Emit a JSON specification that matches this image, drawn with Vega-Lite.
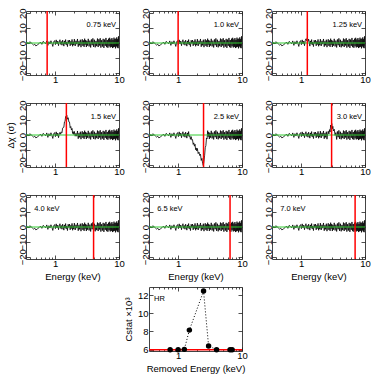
{
"$schema": "https://vega.github.io/schema/vega-lite/v6.json",
"background": "white",
"padding": {"left": 4, "top": 7, "right": 5, "bottom": 2},
"config": {
 "font": "Liberation Sans",
 "view": {"stroke": "#444", "strokeWidth": 1},
 "axis": {"domain": false, "grid": false, "labelFont": "Liberation Sans", "labelFontSize": 9.5, "labelColor": "#000", "titleFont": "Liberation Sans", "titleFontSize": 9.5, "titleFontWeight": "normal", "titleColor": "#000", "tickColor": "#222", "tickWidth": 0.8, "labelOverlap": false, "labelFlush": false, "labelBound": false, "labelPadding": 3, "titlePadding": 2},
 "text": {"font": "Liberation Sans", "fontSize": 7.5, "color": "#000"}
},
"datasets": {
 "A": [{"e":0.36,"r":0.5},{"e":0.38,"r":-0.3},{"e":0.4,"r":0.8},{"e":0.42,"r":0.2},{"e":0.44,"r":-0.6},{"e":0.46,"r":-1.4},{"e":0.48,"r":-0.8},{"e":0.5,"r":-2.0},{"e":0.53,"r":-1.2},{"e":0.56,"r":-0.4},{"e":0.59,"r":0.6},{"e":0.62,"r":-0.9},{"e":0.65,"r":1.1},{"e":0.68,"r":0.3},{"e":0.71,"r":-0.5},{"e":0.74,"r":1.4},{"e":0.77,"r":-1.6},{"e":0.8,"r":0.9},{"e":0.83,"r":-0.7},{"e":0.86,"r":1.5},{"e":0.89,"r":-0.2},{"e":0.92,"r":-2.3},{"e":0.95,"r":0.8},{"e":0.98,"r":1.6},{"e":1.01,"r":-1.1},{"e":1.04,"r":2.1},{"e":1.07,"r":-0.6},{"e":1.1,"r":1.3},{"e":1.13,"r":-1.8},{"e":1.16,"r":0.7},{"e":1.19,"r":2.2},{"e":1.22,"r":-0.9},{"e":1.25,"r":1.0},{"e":1.28,"r":-1.5},{"e":1.31,"r":1.9},{"e":1.34,"r":0.2},{"e":1.37,"r":-2.1},{"e":1.4,"r":1.4},{"e":1.43,"r":-0.7},{"e":1.46,"r":2.3},{"e":1.49,"r":-1.2},{"e":1.52,"r":0.6},{"e":1.56,"r":-2.4},{"e":1.6,"r":1.8},{"e":1.64,"r":-0.3},{"e":1.68,"r":2.0},{"e":1.72,"r":-1.9},{"e":1.76,"r":1.1},{"e":1.8,"r":-1.0},{"e":1.84,"r":2.4},{"e":1.88,"r":-2.2},{"e":1.92,"r":0.9},{"e":1.96,"r":-1.4},{"e":2.0,"r":2.6},{"e":2.06,"r":-2.0},{"e":2.12,"r":1.5},{"e":2.18,"r":-0.8},{"e":2.24,"r":2.7},{"e":2.3,"r":-2.5},{"e":2.36,"r":1.2},{"e":2.42,"r":-1.6},{"e":2.48,"r":2.2},{"e":2.54,"r":-2.8},{"e":2.6,"r":0.7},{"e":2.66,"r":2.5},{"e":2.72,"r":-1.9},{"e":2.78,"r":1.7},{"e":2.84,"r":-2.6},{"e":2.9,"r":2.9},{"e":2.96,"r":-1.1},{"e":3.02,"r":2.0},{"e":3.08,"r":-2.7},{"e":3.14,"r":1.3},{"e":3.2,"r":-1.8},{"e":3.3,"r":2.8},{"e":3.4,"r":-2.3},{"e":3.5,"r":1.6},{"e":3.6,"r":-3.0},{"e":3.7,"r":2.4},{"e":3.8,"r":-1.5},{"e":3.9,"r":3.1},{"e":4.0,"r":-2.6},{"e":4.12,"r":2.2},{"e":4.24,"r":-2.9},{"e":4.36,"r":1.4},{"e":4.48,"r":-2.1},{"e":4.6,"r":3.0},{"e":4.72,"r":-2.7},{"e":4.84,"r":2.5},{"e":4.96,"r":-1.7},{"e":5.08,"r":3.2},{"e":5.2,"r":-3.1},{"e":5.35,"r":1.9},{"e":5.5,"r":-2.4},{"e":5.65,"r":2.8},{"e":5.8,"r":-3.3},{"e":5.95,"r":2.3},{"e":6.1,"r":-1.9},{"e":6.25,"r":3.4},{"e":6.4,"r":-2.8},{"e":6.55,"r":2.0},{"e":6.7,"r":-3.2},{"e":6.85,"r":2.9},{"e":7.0,"r":-2.2},{"e":7.15,"r":3.5},{"e":7.3,"r":-3.0},{"e":7.45,"r":2.4},{"e":7.6,"r":-2.6},{"e":7.75,"r":3.3},{"e":7.9,"r":-3.4},{"e":8.05,"r":2.1},{"e":8.2,"r":-2.9},{"e":8.35,"r":3.6},{"e":8.5,"r":-2.5},{"e":8.65,"r":2.7},{"e":8.8,"r":-3.6},{"e":8.95,"r":3.0},{"e":9.1,"r":-2.3},{"e":9.25,"r":3.8},{"e":9.4,"r":-3.1},{"e":9.55,"r":2.6},{"e":9.7,"r":-3.5},{"e":9.85,"r":4.5},{"e":10.0,"r":-2.0}],
 "B125": [{"e":0.36,"r":0.5},{"e":0.38,"r":-0.3},{"e":0.4,"r":0.8},{"e":0.42,"r":0.2},{"e":0.44,"r":-0.6},{"e":0.46,"r":-1.4},{"e":0.48,"r":-0.8},{"e":0.5,"r":-2.0},{"e":0.53,"r":-1.2},{"e":0.56,"r":-0.4},{"e":0.59,"r":0.6},{"e":0.62,"r":-0.9},{"e":0.65,"r":1.1},{"e":0.68,"r":0.3},{"e":0.71,"r":-0.5},{"e":0.74,"r":1.4},{"e":0.77,"r":-1.6},{"e":0.8,"r":0.9},{"e":0.83,"r":-0.7},{"e":0.86,"r":1.5},{"e":0.89,"r":-0.2},{"e":0.92,"r":-2.3},{"e":0.95,"r":0.8},{"e":0.98,"r":1.6},{"e":1.01,"r":-1.1},{"e":1.04,"r":2.1},{"e":1.07,"r":-0.6},{"e":1.1,"r":1.3},{"e":1.13,"r":-1.8},{"e":1.16,"r":1.5},{"e":1.19,"r":2.8},{"e":1.22,"r":1.5},{"e":1.25,"r":3.5},{"e":1.28,"r":1.0},{"e":1.31,"r":2.6},{"e":1.34,"r":0.8},{"e":1.37,"r":-2.1},{"e":1.4,"r":1.4},{"e":1.43,"r":-0.7},{"e":1.46,"r":2.3},{"e":1.49,"r":-1.2},{"e":1.52,"r":0.6},{"e":1.56,"r":-2.4},{"e":1.6,"r":1.8},{"e":1.64,"r":-0.3},{"e":1.68,"r":2.0},{"e":1.72,"r":-1.9},{"e":1.76,"r":1.1},{"e":1.8,"r":-1.0},{"e":1.84,"r":2.4},{"e":1.88,"r":-2.2},{"e":1.92,"r":0.9},{"e":1.96,"r":-1.4},{"e":2.0,"r":2.6},{"e":2.06,"r":-2.0},{"e":2.12,"r":1.5},{"e":2.18,"r":-0.8},{"e":2.24,"r":2.7},{"e":2.3,"r":-2.5},{"e":2.36,"r":1.2},{"e":2.42,"r":-1.6},{"e":2.48,"r":2.2},{"e":2.54,"r":-2.8},{"e":2.6,"r":0.7},{"e":2.66,"r":2.5},{"e":2.72,"r":-1.9},{"e":2.78,"r":1.7},{"e":2.84,"r":-2.6},{"e":2.9,"r":2.9},{"e":2.96,"r":-1.1},{"e":3.02,"r":2.0},{"e":3.08,"r":-2.7},{"e":3.14,"r":1.3},{"e":3.2,"r":-1.8},{"e":3.3,"r":2.8},{"e":3.4,"r":-2.3},{"e":3.5,"r":1.6},{"e":3.6,"r":-3.0},{"e":3.7,"r":2.4},{"e":3.8,"r":-1.5},{"e":3.9,"r":3.1},{"e":4.0,"r":-2.6},{"e":4.12,"r":2.2},{"e":4.24,"r":-2.9},{"e":4.36,"r":1.4},{"e":4.48,"r":-2.1},{"e":4.6,"r":3.0},{"e":4.72,"r":-2.7},{"e":4.84,"r":2.5},{"e":4.96,"r":-1.7},{"e":5.08,"r":3.2},{"e":5.2,"r":-3.1},{"e":5.35,"r":1.9},{"e":5.5,"r":-2.4},{"e":5.65,"r":2.8},{"e":5.8,"r":-3.3},{"e":5.95,"r":2.3},{"e":6.1,"r":-1.9},{"e":6.25,"r":3.4},{"e":6.4,"r":-2.8},{"e":6.55,"r":2.0},{"e":6.7,"r":-3.2},{"e":6.85,"r":2.9},{"e":7.0,"r":-2.2},{"e":7.15,"r":3.5},{"e":7.3,"r":-3.0},{"e":7.45,"r":2.4},{"e":7.6,"r":-2.6},{"e":7.75,"r":3.3},{"e":7.9,"r":-3.4},{"e":8.05,"r":2.1},{"e":8.2,"r":-2.9},{"e":8.35,"r":3.6},{"e":8.5,"r":-2.5},{"e":8.65,"r":2.7},{"e":8.8,"r":-3.6},{"e":8.95,"r":3.0},{"e":9.1,"r":-2.3},{"e":9.25,"r":3.8},{"e":9.4,"r":-3.1},{"e":9.55,"r":2.6},{"e":9.7,"r":-3.5},{"e":9.85,"r":4.5},{"e":10.0,"r":-2.0}],
 "B15": [{"e":0.36,"r":0.5},{"e":0.38,"r":-0.3},{"e":0.4,"r":0.8},{"e":0.42,"r":0.2},{"e":0.44,"r":-0.6},{"e":0.46,"r":-1.4},{"e":0.48,"r":-0.8},{"e":0.5,"r":-2.0},{"e":0.53,"r":-1.2},{"e":0.56,"r":-0.4},{"e":0.59,"r":0.6},{"e":0.62,"r":-0.9},{"e":0.65,"r":1.1},{"e":0.68,"r":0.3},{"e":0.71,"r":-0.5},{"e":0.74,"r":1.4},{"e":0.77,"r":-1.6},{"e":0.8,"r":0.9},{"e":0.83,"r":-0.7},{"e":0.86,"r":1.5},{"e":0.89,"r":-0.2},{"e":0.92,"r":-2.3},{"e":0.95,"r":0.8},{"e":0.98,"r":1.6},{"e":1.01,"r":-1.1},{"e":1.04,"r":2.1},{"e":1.07,"r":-0.6},{"e":1.1,"r":1.3},{"e":1.13,"r":-1.8},{"e":1.16,"r":0.7},{"e":1.19,"r":1.8},{"e":1.22,"r":0.5},{"e":1.25,"r":2.1},{"e":1.28,"r":1.6},{"e":1.31,"r":4.6},{"e":1.34,"r":5.1},{"e":1.37,"r":5.2},{"e":1.4,"r":8.8},{"e":1.43,"r":9.1},{"e":1.46,"r":12.4},{"e":1.49,"r":11.8},{"e":1.52,"r":13.4},{"e":1.56,"r":10.6},{"e":1.6,"r":11.6},{"e":1.64,"r":8.8},{"e":1.68,"r":8.7},{"e":1.72,"r":4.9},{"e":1.76,"r":5.7},{"e":1.8,"r":3.4},{"e":1.84,"r":4.4},{"e":1.88,"r":1.0},{"e":1.92,"r":2.2},{"e":1.96,"r":0.4},{"e":2.0,"r":2.4},{"e":2.06,"r":-0.8},{"e":2.12,"r":1.1},{"e":2.18,"r":-0.8},{"e":2.24,"r":2.7},{"e":2.3,"r":-2.5},{"e":2.36,"r":1.2},{"e":2.42,"r":-1.6},{"e":2.48,"r":2.2},{"e":2.54,"r":-2.8},{"e":2.6,"r":0.7},{"e":2.66,"r":2.5},{"e":2.72,"r":-1.9},{"e":2.78,"r":1.7},{"e":2.84,"r":-2.6},{"e":2.9,"r":2.9},{"e":2.96,"r":-1.1},{"e":3.02,"r":2.0},{"e":3.08,"r":-2.7},{"e":3.14,"r":1.3},{"e":3.2,"r":-1.8},{"e":3.3,"r":2.8},{"e":3.4,"r":-2.3},{"e":3.5,"r":1.6},{"e":3.6,"r":-3.0},{"e":3.7,"r":2.4},{"e":3.8,"r":-1.5},{"e":3.9,"r":3.1},{"e":4.0,"r":-2.6},{"e":4.12,"r":2.2},{"e":4.24,"r":-2.9},{"e":4.36,"r":1.4},{"e":4.48,"r":-2.1},{"e":4.6,"r":3.0},{"e":4.72,"r":-2.7},{"e":4.84,"r":2.5},{"e":4.96,"r":-1.7},{"e":5.08,"r":3.2},{"e":5.2,"r":-3.1},{"e":5.35,"r":1.9},{"e":5.5,"r":-2.4},{"e":5.65,"r":2.8},{"e":5.8,"r":-3.3},{"e":5.95,"r":2.3},{"e":6.1,"r":-1.9},{"e":6.25,"r":3.4},{"e":6.4,"r":-2.8},{"e":6.55,"r":2.0},{"e":6.7,"r":-3.2},{"e":6.85,"r":2.9},{"e":7.0,"r":-2.2},{"e":7.15,"r":3.5},{"e":7.3,"r":-3.0},{"e":7.45,"r":2.4},{"e":7.6,"r":-2.6},{"e":7.75,"r":3.3},{"e":7.9,"r":-3.4},{"e":8.05,"r":2.1},{"e":8.2,"r":-2.9},{"e":8.35,"r":3.6},{"e":8.5,"r":-2.5},{"e":8.65,"r":2.7},{"e":8.8,"r":-3.6},{"e":8.95,"r":3.0},{"e":9.1,"r":-2.3},{"e":9.25,"r":3.8},{"e":9.4,"r":-3.1},{"e":9.55,"r":2.6},{"e":9.7,"r":-3.5},{"e":9.85,"r":4.5},{"e":10.0,"r":-2.0}],
 "B25": [{"e":0.36,"r":0.5},{"e":0.38,"r":-0.3},{"e":0.4,"r":0.8},{"e":0.42,"r":0.2},{"e":0.44,"r":-0.6},{"e":0.46,"r":-1.4},{"e":0.48,"r":-0.8},{"e":0.5,"r":-2.0},{"e":0.53,"r":-1.2},{"e":0.56,"r":-0.4},{"e":0.59,"r":0.6},{"e":0.62,"r":-0.9},{"e":0.65,"r":1.1},{"e":0.68,"r":0.3},{"e":0.71,"r":-0.5},{"e":0.74,"r":1.4},{"e":0.77,"r":-1.6},{"e":0.8,"r":0.9},{"e":0.83,"r":-0.7},{"e":0.86,"r":1.5},{"e":0.89,"r":-0.2},{"e":0.92,"r":-2.3},{"e":0.95,"r":0.8},{"e":0.98,"r":1.6},{"e":1.01,"r":-1.1},{"e":1.04,"r":2.1},{"e":1.07,"r":-0.6},{"e":1.1,"r":1.3},{"e":1.13,"r":-1.8},{"e":1.16,"r":0.7},{"e":1.19,"r":2.2},{"e":1.22,"r":-0.9},{"e":1.25,"r":1.0},{"e":1.28,"r":-1.5},{"e":1.31,"r":1.9},{"e":1.34,"r":0.2},{"e":1.37,"r":-2.1},{"e":1.4,"r":1.4},{"e":1.43,"r":-0.7},{"e":1.46,"r":2.3},{"e":1.49,"r":-1.0},{"e":1.52,"r":-0.4},{"e":1.56,"r":-2.9},{"e":1.6,"r":-1.1},{"e":1.64,"r":-3.4},{"e":1.68,"r":-3.1},{"e":1.72,"r":-6.3},{"e":1.76,"r":-5.3},{"e":1.8,"r":-7.5},{"e":1.84,"r":-6.2},{"e":1.88,"r":-9.9},{"e":1.92,"r":-8.7},{"e":1.96,"r":-10.7},{"e":2.0,"r":-9.0},{"e":2.06,"r":-12.5},{"e":2.12,"r":-11.5},{"e":2.18,"r":-13.8},{"e":2.24,"r":-12.9},{"e":2.3,"r":-17.1},{"e":2.36,"r":-15.7},{"e":2.42,"r":-19.2},{"e":2.48,"r":-20.6},{"e":2.54,"r":-17.5},{"e":2.6,"r":-13.6},{"e":2.66,"r":-8.5},{"e":2.72,"r":-7.1},{"e":2.78,"r":-2.0},{"e":2.84,"r":-2.6},{"e":2.9,"r":2.9},{"e":2.96,"r":-1.1},{"e":3.02,"r":2.0},{"e":3.08,"r":-2.7},{"e":3.14,"r":1.3},{"e":3.2,"r":-1.8},{"e":3.3,"r":2.8},{"e":3.4,"r":-2.3},{"e":3.5,"r":1.6},{"e":3.6,"r":-3.0},{"e":3.7,"r":2.4},{"e":3.8,"r":-1.5},{"e":3.9,"r":3.1},{"e":4.0,"r":-2.6},{"e":4.12,"r":2.2},{"e":4.24,"r":-2.9},{"e":4.36,"r":1.4},{"e":4.48,"r":-2.1},{"e":4.6,"r":3.0},{"e":4.72,"r":-2.7},{"e":4.84,"r":2.5},{"e":4.96,"r":-1.7},{"e":5.08,"r":3.2},{"e":5.2,"r":-3.1},{"e":5.35,"r":1.9},{"e":5.5,"r":-2.4},{"e":5.65,"r":2.8},{"e":5.8,"r":-3.3},{"e":5.95,"r":2.3},{"e":6.1,"r":-1.9},{"e":6.25,"r":3.4},{"e":6.4,"r":-2.8},{"e":6.55,"r":2.0},{"e":6.7,"r":-3.2},{"e":6.85,"r":2.9},{"e":7.0,"r":-2.2},{"e":7.15,"r":3.5},{"e":7.3,"r":-3.0},{"e":7.45,"r":2.4},{"e":7.6,"r":-2.6},{"e":7.75,"r":3.3},{"e":7.9,"r":-3.4},{"e":8.05,"r":2.1},{"e":8.2,"r":-2.9},{"e":8.35,"r":3.6},{"e":8.5,"r":-2.5},{"e":8.65,"r":2.7},{"e":8.8,"r":-3.6},{"e":8.95,"r":3.0},{"e":9.1,"r":-2.3},{"e":9.25,"r":3.8},{"e":9.4,"r":-3.1},{"e":9.55,"r":2.6},{"e":9.7,"r":-3.5},{"e":9.85,"r":4.5},{"e":10.0,"r":-2.0}],
 "B30": [{"e":0.36,"r":0.5},{"e":0.38,"r":-0.3},{"e":0.4,"r":0.8},{"e":0.42,"r":0.2},{"e":0.44,"r":-0.6},{"e":0.46,"r":-1.4},{"e":0.48,"r":-0.8},{"e":0.5,"r":-2.0},{"e":0.53,"r":-1.2},{"e":0.56,"r":-0.4},{"e":0.59,"r":0.6},{"e":0.62,"r":-0.9},{"e":0.65,"r":1.1},{"e":0.68,"r":0.3},{"e":0.71,"r":-0.5},{"e":0.74,"r":1.4},{"e":0.77,"r":-1.6},{"e":0.8,"r":0.9},{"e":0.83,"r":-0.7},{"e":0.86,"r":1.5},{"e":0.89,"r":-0.2},{"e":0.92,"r":-2.3},{"e":0.95,"r":0.8},{"e":0.98,"r":1.6},{"e":1.01,"r":-1.1},{"e":1.04,"r":2.1},{"e":1.07,"r":-0.6},{"e":1.1,"r":1.3},{"e":1.13,"r":-1.8},{"e":1.16,"r":0.7},{"e":1.19,"r":2.2},{"e":1.22,"r":-0.9},{"e":1.25,"r":1.0},{"e":1.28,"r":-1.5},{"e":1.31,"r":1.9},{"e":1.34,"r":0.2},{"e":1.37,"r":-2.1},{"e":1.4,"r":1.4},{"e":1.43,"r":-0.7},{"e":1.46,"r":2.3},{"e":1.49,"r":-1.2},{"e":1.52,"r":0.6},{"e":1.56,"r":-2.4},{"e":1.6,"r":1.8},{"e":1.64,"r":-0.3},{"e":1.68,"r":2.0},{"e":1.72,"r":-1.9},{"e":1.76,"r":1.1},{"e":1.8,"r":-1.0},{"e":1.84,"r":2.4},{"e":1.88,"r":-2.2},{"e":1.92,"r":0.9},{"e":1.96,"r":-1.4},{"e":2.0,"r":2.6},{"e":2.06,"r":-2.0},{"e":2.12,"r":1.5},{"e":2.18,"r":-0.8},{"e":2.24,"r":2.7},{"e":2.3,"r":-2.5},{"e":2.36,"r":1.2},{"e":2.42,"r":-1.6},{"e":2.48,"r":2.2},{"e":2.54,"r":-2.8},{"e":2.6,"r":0.9},{"e":2.66,"r":2.5},{"e":2.72,"r":0.7},{"e":2.78,"r":3.6},{"e":2.84,"r":2.0},{"e":2.9,"r":6.7},{"e":2.96,"r":5.3},{"e":3.02,"r":7.7},{"e":3.08,"r":4.2},{"e":3.14,"r":5.8},{"e":3.2,"r":2.7},{"e":3.3,"r":3.9},{"e":3.4,"r":-0.2},{"e":3.5,"r":1.6},{"e":3.6,"r":-3.0},{"e":3.7,"r":2.4},{"e":3.8,"r":-1.5},{"e":3.9,"r":3.1},{"e":4.0,"r":-2.6},{"e":4.12,"r":2.2},{"e":4.24,"r":-2.9},{"e":4.36,"r":1.4},{"e":4.48,"r":-2.1},{"e":4.6,"r":3.0},{"e":4.72,"r":-2.7},{"e":4.84,"r":2.5},{"e":4.96,"r":-1.7},{"e":5.08,"r":3.2},{"e":5.2,"r":-3.1},{"e":5.35,"r":1.9},{"e":5.5,"r":-2.4},{"e":5.65,"r":2.8},{"e":5.8,"r":-3.3},{"e":5.95,"r":2.3},{"e":6.1,"r":-1.9},{"e":6.25,"r":3.4},{"e":6.4,"r":-2.8},{"e":6.55,"r":2.0},{"e":6.7,"r":-3.2},{"e":6.85,"r":2.9},{"e":7.0,"r":-2.2},{"e":7.15,"r":3.5},{"e":7.3,"r":-3.0},{"e":7.45,"r":2.4},{"e":7.6,"r":-2.6},{"e":7.75,"r":3.3},{"e":7.9,"r":-3.4},{"e":8.05,"r":2.1},{"e":8.2,"r":-2.9},{"e":8.35,"r":3.6},{"e":8.5,"r":-2.5},{"e":8.65,"r":2.7},{"e":8.8,"r":-3.6},{"e":8.95,"r":3.0},{"e":9.1,"r":-2.3},{"e":9.25,"r":3.8},{"e":9.4,"r":-3.1},{"e":9.55,"r":2.6},{"e":9.7,"r":-3.5},{"e":9.85,"r":4.5},{"e":10.0,"r":-2.0}],
 "cs": [{"e":0.75,"c":6.0},{"e":1.0,"c":6.0},{"e":1.25,"c":6.03},{"e":1.5,"c":8.15},{"e":2.5,"c":12.45},{"e":3.0,"c":6.4},{"e":4.0,"c":6.0},{"e":6.5,"c":6.0},{"e":7.0,"c":6.0}]
},
"columns": 3,
"spacing": {"row": 28, "column": 30},
"bounds": "flush",
"concat": [
 {"width": 93, "height": 64, "resolve": {"axis": {"x": "independent", "y": "independent"}}, "layer": [
  {"data": {"name": "A"}, "mark": {"type": "line", "color": "#000", "strokeWidth": 0.8, "clip": true}, "encoding": {"x": {"field": "e", "type": "quantitative", "scale": {"type": "log", "domain": [0.35, 10], "nice": false}, "axis": {"orient": "bottom", "values": [0.4,0.5,0.6,0.7,0.8,0.9,1,2,3,4,5,6,7,8,9,10], "labelExpr": "datum.value == 1 ? '1' : datum.value == 10 ? '10' : ''", "tickSize": {"condition": {"test": "datum.value == 1 || datum.value == 10", "value": -4}, "value": -2}, "title": null}}, "y": {"field": "r", "type": "quantitative", "scale": {"domain": [-21.5, 21.5], "nice": false, "zero": false}, "axis": {"orient": "left", "values": [-20,-10,0,10,20], "labelAngle": -90, "labelAlign": "center", "labelBaseline": "bottom", "tickSize": -4, "title": null}}}},
  {"data": {"values": [{"z": 0}]}, "mark": {"type": "rule", "color": "#3c3", "strokeWidth": 1}, "encoding": {"y": {"field": "z", "type": "quantitative", "scale": {"domain": [-21.5, 21.5], "nice": false, "zero": false}, "axis": {"orient": "right", "values": [-20,-10,0,10,20], "labels": false, "tickSize": -4, "title": null}}}},
  {"data": {"values": [{}]}, "mark": {"type": "rule", "color": "#f00", "strokeWidth": 1.5}, "encoding": {"x": {"datum": 0.75, "type": "quantitative", "scale": {"type": "log", "domain": [0.35, 10], "nice": false}, "axis": {"orient": "top", "values": [0.4,0.5,0.6,0.7,0.8,0.9,1,2,3,4,5,6,7,8,9,10], "labels": false, "tickSize": {"condition": {"test": "datum.value == 1 || datum.value == 10", "value": -4}, "value": -2}, "title": null}}}},
  {"data": {"values": [{"t": "0.75 keV"}]}, "mark": {"type": "text", "align": "right", "baseline": "middle"}, "encoding": {"x": {"datum": 9, "type": "quantitative", "scale": {"type": "log", "domain": [0.35, 10], "nice": false}, "axis": null}, "y": {"datum": 12, "type": "quantitative", "scale": {"domain": [-21.5, 21.5], "nice": false, "zero": false}, "axis": null}, "text": {"field": "t"}}}
 ]},
 {"width": 93, "height": 64, "resolve": {"axis": {"x": "independent", "y": "independent"}}, "layer": [
  {"data": {"name": "A"}, "mark": {"type": "line", "color": "#000", "strokeWidth": 0.8, "clip": true}, "encoding": {"x": {"field": "e", "type": "quantitative", "scale": {"type": "log", "domain": [0.35, 10], "nice": false}, "axis": {"orient": "bottom", "values": [0.4,0.5,0.6,0.7,0.8,0.9,1,2,3,4,5,6,7,8,9,10], "labelExpr": "datum.value == 1 ? '1' : datum.value == 10 ? '10' : ''", "tickSize": {"condition": {"test": "datum.value == 1 || datum.value == 10", "value": -4}, "value": -2}, "title": null}}, "y": {"field": "r", "type": "quantitative", "scale": {"domain": [-21.5, 21.5], "nice": false, "zero": false}, "axis": {"orient": "left", "values": [-20,-10,0,10,20], "labelAngle": -90, "labelAlign": "center", "labelBaseline": "bottom", "tickSize": -4, "title": null}}}},
  {"data": {"values": [{"z": 0}]}, "mark": {"type": "rule", "color": "#3c3", "strokeWidth": 1}, "encoding": {"y": {"field": "z", "type": "quantitative", "scale": {"domain": [-21.5, 21.5], "nice": false, "zero": false}, "axis": {"orient": "right", "values": [-20,-10,0,10,20], "labels": false, "tickSize": -4, "title": null}}}},
  {"data": {"values": [{}]}, "mark": {"type": "rule", "color": "#f00", "strokeWidth": 1.5}, "encoding": {"x": {"datum": 1.0, "type": "quantitative", "scale": {"type": "log", "domain": [0.35, 10], "nice": false}, "axis": {"orient": "top", "values": [0.4,0.5,0.6,0.7,0.8,0.9,1,2,3,4,5,6,7,8,9,10], "labels": false, "tickSize": {"condition": {"test": "datum.value == 1 || datum.value == 10", "value": -4}, "value": -2}, "title": null}}}},
  {"data": {"values": [{"t": "1.0 keV"}]}, "mark": {"type": "text", "align": "right", "baseline": "middle"}, "encoding": {"x": {"datum": 9, "type": "quantitative", "scale": {"type": "log", "domain": [0.35, 10], "nice": false}, "axis": null}, "y": {"datum": 12, "type": "quantitative", "scale": {"domain": [-21.5, 21.5], "nice": false, "zero": false}, "axis": null}, "text": {"field": "t"}}}
 ]},
 {"width": 93, "height": 64, "resolve": {"axis": {"x": "independent", "y": "independent"}}, "layer": [
  {"data": {"name": "B125"}, "mark": {"type": "line", "color": "#000", "strokeWidth": 0.8, "clip": true}, "encoding": {"x": {"field": "e", "type": "quantitative", "scale": {"type": "log", "domain": [0.35, 10], "nice": false}, "axis": {"orient": "bottom", "values": [0.4,0.5,0.6,0.7,0.8,0.9,1,2,3,4,5,6,7,8,9,10], "labelExpr": "datum.value == 1 ? '1' : datum.value == 10 ? '10' : ''", "tickSize": {"condition": {"test": "datum.value == 1 || datum.value == 10", "value": -4}, "value": -2}, "title": null}}, "y": {"field": "r", "type": "quantitative", "scale": {"domain": [-21.5, 21.5], "nice": false, "zero": false}, "axis": {"orient": "left", "values": [-20,-10,0,10,20], "labelAngle": -90, "labelAlign": "center", "labelBaseline": "bottom", "tickSize": -4, "title": null}}}},
  {"data": {"values": [{"z": 0}]}, "mark": {"type": "rule", "color": "#3c3", "strokeWidth": 1}, "encoding": {"y": {"field": "z", "type": "quantitative", "scale": {"domain": [-21.5, 21.5], "nice": false, "zero": false}, "axis": {"orient": "right", "values": [-20,-10,0,10,20], "labels": false, "tickSize": -4, "title": null}}}},
  {"data": {"values": [{}]}, "mark": {"type": "rule", "color": "#f00", "strokeWidth": 1.5}, "encoding": {"x": {"datum": 1.25, "type": "quantitative", "scale": {"type": "log", "domain": [0.35, 10], "nice": false}, "axis": {"orient": "top", "values": [0.4,0.5,0.6,0.7,0.8,0.9,1,2,3,4,5,6,7,8,9,10], "labels": false, "tickSize": {"condition": {"test": "datum.value == 1 || datum.value == 10", "value": -4}, "value": -2}, "title": null}}}},
  {"data": {"values": [{"t": "1.25 keV"}]}, "mark": {"type": "text", "align": "right", "baseline": "middle"}, "encoding": {"x": {"datum": 9, "type": "quantitative", "scale": {"type": "log", "domain": [0.35, 10], "nice": false}, "axis": null}, "y": {"datum": 12, "type": "quantitative", "scale": {"domain": [-21.5, 21.5], "nice": false, "zero": false}, "axis": null}, "text": {"field": "t"}}}
 ]},
 {"width": 93, "height": 64, "resolve": {"axis": {"x": "independent", "y": "independent"}}, "layer": [
  {"data": {"name": "B15"}, "mark": {"type": "line", "color": "#000", "strokeWidth": 0.8, "clip": true}, "encoding": {"x": {"field": "e", "type": "quantitative", "scale": {"type": "log", "domain": [0.35, 10], "nice": false}, "axis": {"orient": "bottom", "values": [0.4,0.5,0.6,0.7,0.8,0.9,1,2,3,4,5,6,7,8,9,10], "labelExpr": "datum.value == 1 ? '1' : datum.value == 10 ? '10' : ''", "tickSize": {"condition": {"test": "datum.value == 1 || datum.value == 10", "value": -4}, "value": -2}, "title": null}}, "y": {"field": "r", "type": "quantitative", "scale": {"domain": [-21.5, 21.5], "nice": false, "zero": false}, "axis": {"orient": "left", "values": [-20,-10,0,10,20], "labelAngle": -90, "labelAlign": "center", "labelBaseline": "bottom", "tickSize": -4, "title": "Δχ (σ)"}}}},
  {"data": {"values": [{"z": 0}]}, "mark": {"type": "rule", "color": "#3c3", "strokeWidth": 1}, "encoding": {"y": {"field": "z", "type": "quantitative", "scale": {"domain": [-21.5, 21.5], "nice": false, "zero": false}, "axis": {"orient": "right", "values": [-20,-10,0,10,20], "labels": false, "tickSize": -4, "title": null}}}},
  {"data": {"values": [{}]}, "mark": {"type": "rule", "color": "#f00", "strokeWidth": 1.5}, "encoding": {"x": {"datum": 1.5, "type": "quantitative", "scale": {"type": "log", "domain": [0.35, 10], "nice": false}, "axis": {"orient": "top", "values": [0.4,0.5,0.6,0.7,0.8,0.9,1,2,3,4,5,6,7,8,9,10], "labels": false, "tickSize": {"condition": {"test": "datum.value == 1 || datum.value == 10", "value": -4}, "value": -2}, "title": null}}}},
  {"data": {"values": [{"t": "1.5 keV"}]}, "mark": {"type": "text", "align": "right", "baseline": "middle"}, "encoding": {"x": {"datum": 9, "type": "quantitative", "scale": {"type": "log", "domain": [0.35, 10], "nice": false}, "axis": null}, "y": {"datum": 12, "type": "quantitative", "scale": {"domain": [-21.5, 21.5], "nice": false, "zero": false}, "axis": null}, "text": {"field": "t"}}}
 ]},
 {"width": 93, "height": 64, "resolve": {"axis": {"x": "independent", "y": "independent"}}, "layer": [
  {"data": {"name": "B25"}, "mark": {"type": "line", "color": "#000", "strokeWidth": 0.8, "clip": true}, "encoding": {"x": {"field": "e", "type": "quantitative", "scale": {"type": "log", "domain": [0.35, 10], "nice": false}, "axis": {"orient": "bottom", "values": [0.4,0.5,0.6,0.7,0.8,0.9,1,2,3,4,5,6,7,8,9,10], "labelExpr": "datum.value == 1 ? '1' : datum.value == 10 ? '10' : ''", "tickSize": {"condition": {"test": "datum.value == 1 || datum.value == 10", "value": -4}, "value": -2}, "title": null}}, "y": {"field": "r", "type": "quantitative", "scale": {"domain": [-21.5, 21.5], "nice": false, "zero": false}, "axis": {"orient": "left", "values": [-20,-10,0,10,20], "labelAngle": -90, "labelAlign": "center", "labelBaseline": "bottom", "tickSize": -4, "title": null}}}},
  {"data": {"values": [{"z": 0}]}, "mark": {"type": "rule", "color": "#3c3", "strokeWidth": 1}, "encoding": {"y": {"field": "z", "type": "quantitative", "scale": {"domain": [-21.5, 21.5], "nice": false, "zero": false}, "axis": {"orient": "right", "values": [-20,-10,0,10,20], "labels": false, "tickSize": -4, "title": null}}}},
  {"data": {"values": [{}]}, "mark": {"type": "rule", "color": "#f00", "strokeWidth": 1.5}, "encoding": {"x": {"datum": 2.5, "type": "quantitative", "scale": {"type": "log", "domain": [0.35, 10], "nice": false}, "axis": {"orient": "top", "values": [0.4,0.5,0.6,0.7,0.8,0.9,1,2,3,4,5,6,7,8,9,10], "labels": false, "tickSize": {"condition": {"test": "datum.value == 1 || datum.value == 10", "value": -4}, "value": -2}, "title": null}}}},
  {"data": {"values": [{"t": "2.5 keV"}]}, "mark": {"type": "text", "align": "right", "baseline": "middle"}, "encoding": {"x": {"datum": 9, "type": "quantitative", "scale": {"type": "log", "domain": [0.35, 10], "nice": false}, "axis": null}, "y": {"datum": 12, "type": "quantitative", "scale": {"domain": [-21.5, 21.5], "nice": false, "zero": false}, "axis": null}, "text": {"field": "t"}}}
 ]},
 {"width": 93, "height": 64, "resolve": {"axis": {"x": "independent", "y": "independent"}}, "layer": [
  {"data": {"name": "B30"}, "mark": {"type": "line", "color": "#000", "strokeWidth": 0.8, "clip": true}, "encoding": {"x": {"field": "e", "type": "quantitative", "scale": {"type": "log", "domain": [0.35, 10], "nice": false}, "axis": {"orient": "bottom", "values": [0.4,0.5,0.6,0.7,0.8,0.9,1,2,3,4,5,6,7,8,9,10], "labelExpr": "datum.value == 1 ? '1' : datum.value == 10 ? '10' : ''", "tickSize": {"condition": {"test": "datum.value == 1 || datum.value == 10", "value": -4}, "value": -2}, "title": null}}, "y": {"field": "r", "type": "quantitative", "scale": {"domain": [-21.5, 21.5], "nice": false, "zero": false}, "axis": {"orient": "left", "values": [-20,-10,0,10,20], "labelAngle": -90, "labelAlign": "center", "labelBaseline": "bottom", "tickSize": -4, "title": null}}}},
  {"data": {"values": [{"z": 0}]}, "mark": {"type": "rule", "color": "#3c3", "strokeWidth": 1}, "encoding": {"y": {"field": "z", "type": "quantitative", "scale": {"domain": [-21.5, 21.5], "nice": false, "zero": false}, "axis": {"orient": "right", "values": [-20,-10,0,10,20], "labels": false, "tickSize": -4, "title": null}}}},
  {"data": {"values": [{}]}, "mark": {"type": "rule", "color": "#f00", "strokeWidth": 1.5}, "encoding": {"x": {"datum": 3.0, "type": "quantitative", "scale": {"type": "log", "domain": [0.35, 10], "nice": false}, "axis": {"orient": "top", "values": [0.4,0.5,0.6,0.7,0.8,0.9,1,2,3,4,5,6,7,8,9,10], "labels": false, "tickSize": {"condition": {"test": "datum.value == 1 || datum.value == 10", "value": -4}, "value": -2}, "title": null}}}},
  {"data": {"values": [{"t": "3.0 keV"}]}, "mark": {"type": "text", "align": "right", "baseline": "middle"}, "encoding": {"x": {"datum": 9, "type": "quantitative", "scale": {"type": "log", "domain": [0.35, 10], "nice": false}, "axis": null}, "y": {"datum": 12, "type": "quantitative", "scale": {"domain": [-21.5, 21.5], "nice": false, "zero": false}, "axis": null}, "text": {"field": "t"}}}
 ]},
 {"width": 93, "height": 64, "resolve": {"axis": {"x": "independent", "y": "independent"}}, "layer": [
  {"data": {"name": "A"}, "mark": {"type": "line", "color": "#000", "strokeWidth": 0.8, "clip": true}, "encoding": {"x": {"field": "e", "type": "quantitative", "scale": {"type": "log", "domain": [0.35, 10], "nice": false}, "axis": {"orient": "bottom", "values": [0.4,0.5,0.6,0.7,0.8,0.9,1,2,3,4,5,6,7,8,9,10], "labelExpr": "datum.value == 1 ? '1' : datum.value == 10 ? '10' : ''", "tickSize": {"condition": {"test": "datum.value == 1 || datum.value == 10", "value": -4}, "value": -2}, "title": "Energy (keV)"}}, "y": {"field": "r", "type": "quantitative", "scale": {"domain": [-21.5, 21.5], "nice": false, "zero": false}, "axis": {"orient": "left", "values": [-20,-10,0,10,20], "labelAngle": -90, "labelAlign": "center", "labelBaseline": "bottom", "tickSize": -4, "title": null}}}},
  {"data": {"values": [{"z": 0}]}, "mark": {"type": "rule", "color": "#3c3", "strokeWidth": 1}, "encoding": {"y": {"field": "z", "type": "quantitative", "scale": {"domain": [-21.5, 21.5], "nice": false, "zero": false}, "axis": {"orient": "right", "values": [-20,-10,0,10,20], "labels": false, "tickSize": -4, "title": null}}}},
  {"data": {"values": [{}]}, "mark": {"type": "rule", "color": "#f00", "strokeWidth": 1.5}, "encoding": {"x": {"datum": 4.0, "type": "quantitative", "scale": {"type": "log", "domain": [0.35, 10], "nice": false}, "axis": {"orient": "top", "values": [0.4,0.5,0.6,0.7,0.8,0.9,1,2,3,4,5,6,7,8,9,10], "labels": false, "tickSize": {"condition": {"test": "datum.value == 1 || datum.value == 10", "value": -4}, "value": -2}, "title": null}}}},
  {"data": {"values": [{"t": "4.0 keV"}]}, "mark": {"type": "text", "align": "left", "baseline": "middle"}, "encoding": {"x": {"datum": 0.47, "type": "quantitative", "scale": {"type": "log", "domain": [0.35, 10], "nice": false}, "axis": null}, "y": {"datum": 12, "type": "quantitative", "scale": {"domain": [-21.5, 21.5], "nice": false, "zero": false}, "axis": null}, "text": {"field": "t"}}}
 ]},
 {"width": 93, "height": 64, "resolve": {"axis": {"x": "independent", "y": "independent"}}, "layer": [
  {"data": {"name": "A"}, "mark": {"type": "line", "color": "#000", "strokeWidth": 0.8, "clip": true}, "encoding": {"x": {"field": "e", "type": "quantitative", "scale": {"type": "log", "domain": [0.35, 10], "nice": false}, "axis": {"orient": "bottom", "values": [0.4,0.5,0.6,0.7,0.8,0.9,1,2,3,4,5,6,7,8,9,10], "labelExpr": "datum.value == 1 ? '1' : datum.value == 10 ? '10' : ''", "tickSize": {"condition": {"test": "datum.value == 1 || datum.value == 10", "value": -4}, "value": -2}, "title": "Energy (keV)"}}, "y": {"field": "r", "type": "quantitative", "scale": {"domain": [-21.5, 21.5], "nice": false, "zero": false}, "axis": {"orient": "left", "values": [-20,-10,0,10,20], "labelAngle": -90, "labelAlign": "center", "labelBaseline": "bottom", "tickSize": -4, "title": null}}}},
  {"data": {"values": [{"z": 0}]}, "mark": {"type": "rule", "color": "#3c3", "strokeWidth": 1}, "encoding": {"y": {"field": "z", "type": "quantitative", "scale": {"domain": [-21.5, 21.5], "nice": false, "zero": false}, "axis": {"orient": "right", "values": [-20,-10,0,10,20], "labels": false, "tickSize": -4, "title": null}}}},
  {"data": {"values": [{}]}, "mark": {"type": "rule", "color": "#f00", "strokeWidth": 1.5}, "encoding": {"x": {"datum": 6.5, "type": "quantitative", "scale": {"type": "log", "domain": [0.35, 10], "nice": false}, "axis": {"orient": "top", "values": [0.4,0.5,0.6,0.7,0.8,0.9,1,2,3,4,5,6,7,8,9,10], "labels": false, "tickSize": {"condition": {"test": "datum.value == 1 || datum.value == 10", "value": -4}, "value": -2}, "title": null}}}},
  {"data": {"values": [{"t": "6.5 keV"}]}, "mark": {"type": "text", "align": "left", "baseline": "middle"}, "encoding": {"x": {"datum": 0.47, "type": "quantitative", "scale": {"type": "log", "domain": [0.35, 10], "nice": false}, "axis": null}, "y": {"datum": 12, "type": "quantitative", "scale": {"domain": [-21.5, 21.5], "nice": false, "zero": false}, "axis": null}, "text": {"field": "t"}}}
 ]},
 {"width": 93, "height": 64, "resolve": {"axis": {"x": "independent", "y": "independent"}}, "layer": [
  {"data": {"name": "A"}, "mark": {"type": "line", "color": "#000", "strokeWidth": 0.8, "clip": true}, "encoding": {"x": {"field": "e", "type": "quantitative", "scale": {"type": "log", "domain": [0.35, 10], "nice": false}, "axis": {"orient": "bottom", "values": [0.4,0.5,0.6,0.7,0.8,0.9,1,2,3,4,5,6,7,8,9,10], "labelExpr": "datum.value == 1 ? '1' : datum.value == 10 ? '10' : ''", "tickSize": {"condition": {"test": "datum.value == 1 || datum.value == 10", "value": -4}, "value": -2}, "title": "Energy (keV)"}}, "y": {"field": "r", "type": "quantitative", "scale": {"domain": [-21.5, 21.5], "nice": false, "zero": false}, "axis": {"orient": "left", "values": [-20,-10,0,10,20], "labelAngle": -90, "labelAlign": "center", "labelBaseline": "bottom", "tickSize": -4, "title": null}}}},
  {"data": {"values": [{"z": 0}]}, "mark": {"type": "rule", "color": "#3c3", "strokeWidth": 1}, "encoding": {"y": {"field": "z", "type": "quantitative", "scale": {"domain": [-21.5, 21.5], "nice": false, "zero": false}, "axis": {"orient": "right", "values": [-20,-10,0,10,20], "labels": false, "tickSize": -4, "title": null}}}},
  {"data": {"values": [{}]}, "mark": {"type": "rule", "color": "#f00", "strokeWidth": 1.5}, "encoding": {"x": {"datum": 7.0, "type": "quantitative", "scale": {"type": "log", "domain": [0.35, 10], "nice": false}, "axis": {"orient": "top", "values": [0.4,0.5,0.6,0.7,0.8,0.9,1,2,3,4,5,6,7,8,9,10], "labels": false, "tickSize": {"condition": {"test": "datum.value == 1 || datum.value == 10", "value": -4}, "value": -2}, "title": null}}}},
  {"data": {"values": [{"t": "7.0 keV"}]}, "mark": {"type": "text", "align": "left", "baseline": "middle"}, "encoding": {"x": {"datum": 0.47, "type": "quantitative", "scale": {"type": "log", "domain": [0.35, 10], "nice": false}, "axis": null}, "y": {"datum": 12, "type": "quantitative", "scale": {"domain": [-21.5, 21.5], "nice": false, "zero": false}, "axis": null}, "text": {"field": "t"}}}
 ]},
 {"width": 93, "height": 64, "data": {"values": []}, "mark": "point", "view": {"stroke": null}},
 {"width": 93, "height": 64, "resolve": {"axis": {"x": "independent", "y": "independent"}}, "layer": [
  {"data": {"name": "cs"}, "mark": {"type": "line", "color": "#000", "strokeWidth": 1, "strokeDash": [1, 2]}, "encoding": {"x": {"field": "e", "type": "quantitative", "scale": {"type": "log", "domain": [0.35, 10], "nice": false}, "axis": {"orient": "bottom", "values": [0.4,0.5,0.6,0.7,0.8,0.9,1,2,3,4,5,6,7,8,9,10], "labelExpr": "datum.value == 1 ? '1' : datum.value == 10 ? '10' : ''", "tickSize": {"condition": {"test": "datum.value == 1 || datum.value == 10", "value": -4}, "value": -2}, "title": "Removed Energy (keV)"}}, "y": {"field": "c", "type": "quantitative", "scale": {"domain": [5.85, 12.9], "nice": false, "zero": false}, "axis": {"orient": "left", "values": [6,8,10,12], "labelExpr": "datum.value == 6 ? '6' : datum.value == 8 ? '8' : datum.value == 10 ? '10' : '12'", "labelOverlap": false, "labelBound": false, "tickSize": -4, "labelPadding": 5, "title": "Cstat ×10³", "titlePadding": 4}}}},
  {"data": {"values": [{"z": 6.0}]}, "mark": {"type": "rule", "color": "#f00", "strokeWidth": 1.5}, "encoding": {"y": {"field": "z", "type": "quantitative", "scale": {"domain": [5.85, 12.9], "nice": false, "zero": false}, "axis": {"orient": "right", "values": [6,8,10,12], "labels": false, "tickSize": -4, "title": null}}}},
  {"data": {"name": "cs"}, "mark": {"type": "point", "filled": true, "color": "#000", "size": 30, "opacity": 1}, "encoding": {"x": {"field": "e", "type": "quantitative", "scale": {"type": "log", "domain": [0.35, 10], "nice": false}, "axis": {"orient": "top", "values": [0.4,0.5,0.6,0.7,0.8,0.9,1,2,3,4,5,6,7,8,9,10], "labels": false, "tickSize": {"condition": {"test": "datum.value == 1 || datum.value == 10", "value": -4}, "value": -2}, "title": null}}, "y": {"field": "c", "type": "quantitative", "scale": {"domain": [5.85, 12.9], "nice": false, "zero": false}, "axis": null}}},
  {"data": {"values": [{"t": "HR"}]}, "mark": {"type": "text", "align": "left", "baseline": "middle"}, "encoding": {"x": {"datum": 0.42, "type": "quantitative", "scale": {"type": "log", "domain": [0.35, 10], "nice": false}, "axis": null}, "y": {"datum": 11.6, "type": "quantitative", "scale": {"domain": [5.85, 12.9], "nice": false, "zero": false}, "axis": null}, "text": {"field": "t"}}}
 ]}
]
}
